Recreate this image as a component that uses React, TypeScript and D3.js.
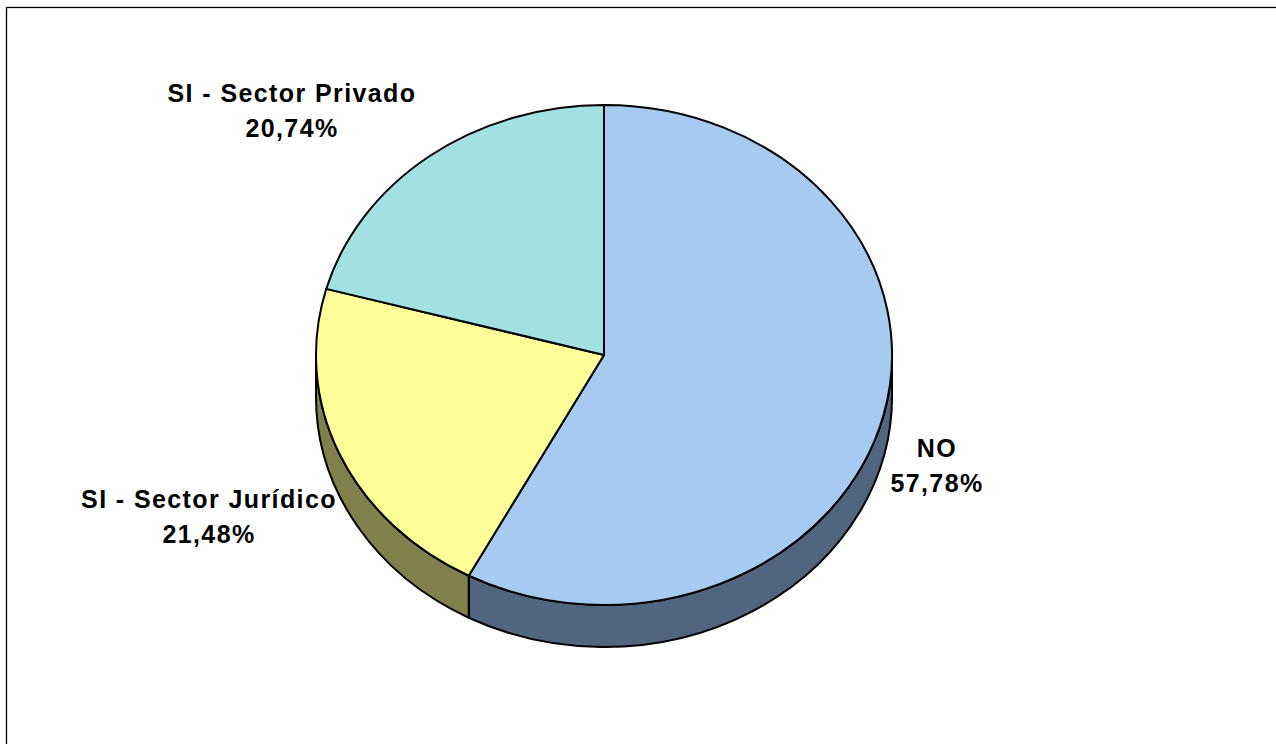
import React from "react";
import * as d3 from "d3";

const categories = ["NO", "SI - Sector Jurídico", "SI - Sector Privado"];
const values = [57.78, 21.48, 20.74];
const labels = ["57,78%", "21,48%", "20,74%"];

const topColors = ["#A6CAF0", "#FFFF99", "#A3E0E1"];
const sideColors = ["#51657F", "#80804C", "#517070"];

// label anchor offsets from the pie centre (Excel puts them by hand)
const labelPos = [
  { x: 333, y: 102 },
  { x: -395, y: 153 },
  { x: -312, y: -253 },
];

const W = 1276;
const H = 744;
const cx = 604;
const cy = 355;
const rx = 288;
const ry = 250;
const depth = 42;

const pt = (a: number, dy = 0) => [cx + rx * Math.sin(a), cy - ry * Math.cos(a) + dy];

export default function App() {
  const arcs = d3
    .pie<number>()
    .sort(null)
    .value((d) => d)(values);

  const topPath = (a0: number, a1: number) => {
    const [x0, y0] = pt(a0);
    const [x1, y1] = pt(a1);
    const large = a1 - a0 > Math.PI ? 1 : 0;
    return `M${cx},${cy}L${x0},${y0}A${rx},${ry} 0 ${large} 1 ${x1},${y1}Z`;
  };

  const sidePath = (a0: number, a1: number) => {
    const s = Math.max(a0, Math.PI / 2);
    const e = Math.min(a1, (3 * Math.PI) / 2);
    if (e <= s) return null;
    const [x0, y0] = pt(s);
    const [x1, y1] = pt(e);
    const [x2, y2] = pt(e, depth);
    const [x3, y3] = pt(s, depth);
    return `M${x0},${y0}A${rx},${ry} 0 0 1 ${x1},${y1}L${x2},${y2}A${rx},${ry} 0 0 0 ${x3},${y3}Z`;
  };

  return (
    <svg
      width={W}
      height={H}
      style={{ position: "absolute", left: 0, top: 0, display: "block" }}
      fontFamily="'Liberation Sans', Arial, sans-serif"
    >
      <rect x={0} y={0} width={W} height={H} fill="#fff" />
      <rect x={6.5} y={7.5} width={W + 50} height={H + 50} fill="none" stroke="#000" strokeWidth={1.3} />
      {arcs.map((a, i) => {
        const d = sidePath(a.startAngle, a.endAngle);
        return d ? (
          <path key={"s" + i} d={d} fill={sideColors[i]} stroke="#000" strokeWidth={2} strokeLinejoin="round" />
        ) : null;
      })}
      {arcs.map((a, i) => (
        <path
          key={"t" + i}
          d={topPath(a.startAngle, a.endAngle)}
          fill={topColors[i]}
          stroke="#000"
          strokeWidth={2}
          strokeLinejoin="round"
        />
      ))}
      {arcs.map((a, i) => (
        <text
          key={"l" + i}
          x={cx + labelPos[i].x}
          y={cy + labelPos[i].y}
          textAnchor="middle"
          fontSize={25}
          fontWeight="bold"
          letterSpacing={1.4}
          fill="#000"
        >
          <tspan x={cx + labelPos[i].x}>{categories[i]}</tspan>
          <tspan x={cx + labelPos[i].x} dy={35}>
            {labels[i]}
          </tspan>
        </text>
      ))}
    </svg>
  );
}
